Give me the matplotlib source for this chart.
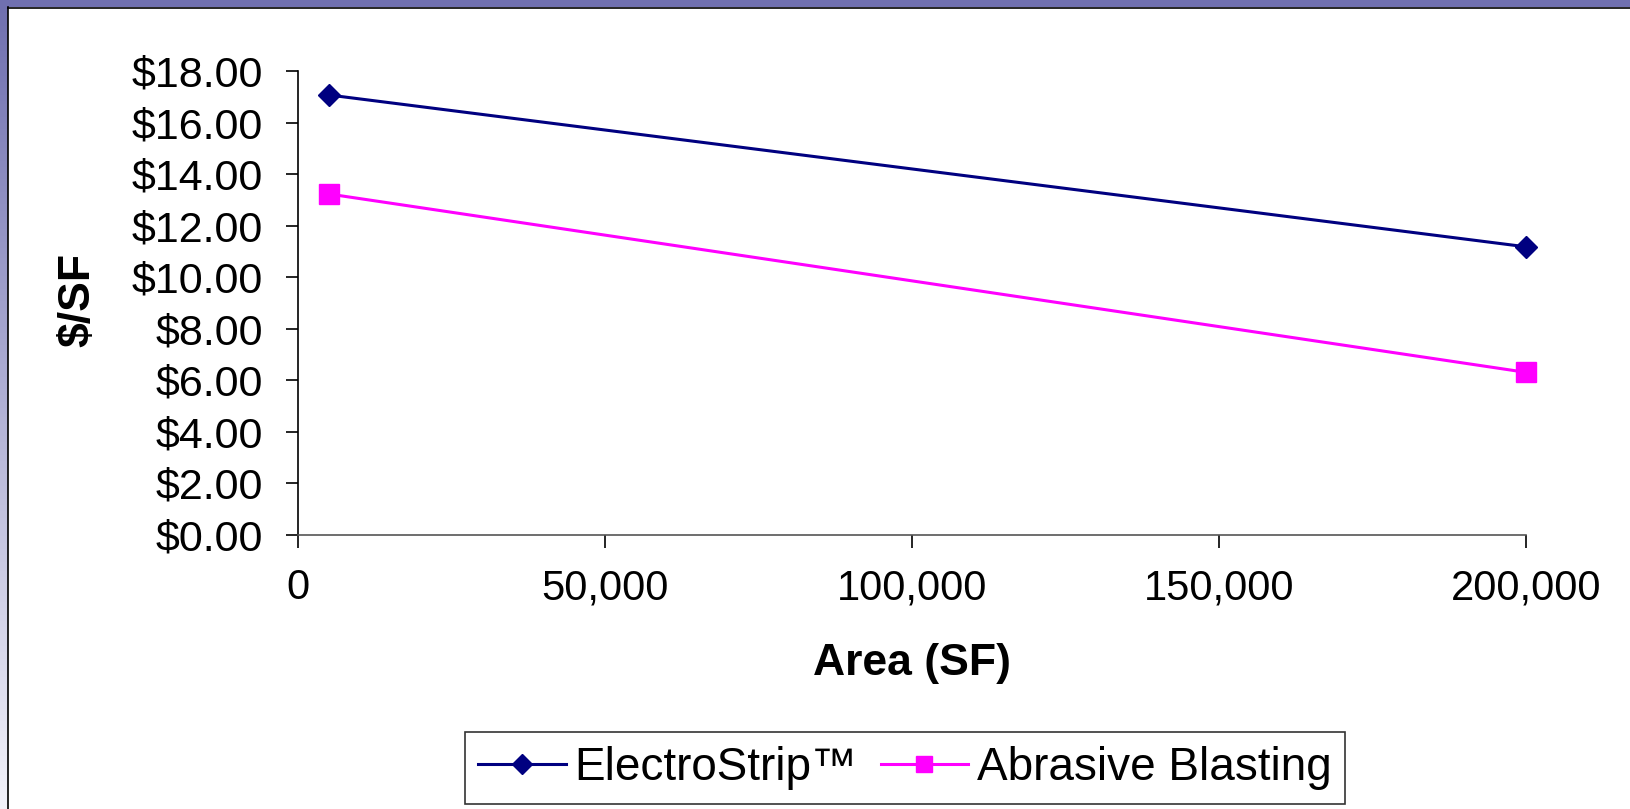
import matplotlib.pyplot as plt
import numpy as np
from matplotlib.patches import Rectangle
from matplotlib.ticker import FuncFormatter, MultipleLocator

plt.rcParams['font.family'] = ['Liberation Sans', 'DejaVu Sans']

# cost per square foot vs. job size
area = [5000, 200000]
electrostrip = [17.07, 11.18]
abrasive = [13.23, 6.31]
series_names = ['ElectroStrip™', 'Abrasive Blasting']

W, H = 1631, 809
fig = plt.figure(figsize=(W / 100, H / 100), dpi=100)
fig.patch.set_facecolor('white')

# slide frame: purple bar on top, fading bar on the left
bg = fig.add_axes([0, 0, 1, 1], zorder=-1)
bg.set_xlim(0, W)
bg.set_ylim(H, 0)
bg.axis('off')
t = np.linspace(0, 1, 256).reshape(-1, 1, 1)
top_c = np.array([0.44, 0.44, 0.69]).reshape(1, 1, 3)
bot_c = np.array([0.95, 0.95, 0.98]).reshape(1, 1, 3)
bg.imshow(top_c + (bot_c - top_c) * t, extent=[0, 8, H, 7], aspect='auto')
bg.add_patch(Rectangle((0, 0), W, 7, color=(0.44, 0.44, 0.69), lw=0))
bg.plot([8, W], [7.5, 7.5], color='black', lw=1.2)
bg.plot([8.5, 8.5], [7, H], color='black', lw=1.2)

ax = fig.add_axes([298 / W, 1 - 535 / H, (1526 - 298) / W, (535 - 71) / H])
ax.plot(area, electrostrip, '-D', color='#000080', lw=2.2, ms=11.5,
        label=series_names[0], clip_on=False)
ax.plot(area, abrasive, '-s', color='#FF00FF', lw=2.2, ms=14,
        label=series_names[1], clip_on=False)

ax.set_xlim(0, 200000)
ax.set_ylim(0, 18)
ax.xaxis.set_major_locator(MultipleLocator(50000))
ax.yaxis.set_major_locator(MultipleLocator(2))
ax.xaxis.set_major_formatter(FuncFormatter(lambda v, p: f'{v:,.0f}'))
ax.yaxis.set_major_formatter(FuncFormatter(lambda v, p: f'${v:.2f}'))
ax.tick_params(length=9, width=1.2, direction='out')
ax.tick_params(axis='x', labelsize=30, pad=15)
ax.tick_params(axis='y', labelsize=31, pad=16)
for s in ['top', 'right']:
    ax.spines[s].set_visible(False)
ax.spines['left'].set_linewidth(1.2)
ax.spines['bottom'].set_linewidth(1.2)
ax.spines['bottom'].set_color('#555555')

fig.text(78 / W, 1 - 300 / H, '$/SF', rotation=90, fontsize=32, fontweight='bold',
         ha='center', va='center')
fig.text(912 / W, 1 - 664 / H, 'Area (SF)', fontsize=32, fontweight='bold',
         ha='center', va='center')

leg = fig.legend(loc='center', bbox_to_anchor=(905 / W, 1 - 768 / H), ncol=2,
                 fontsize=33, frameon=True, fancybox=False, edgecolor='black',
                 handlelength=1.9, handletextpad=0.2, columnspacing=0.5,
                 borderpad=0.3, markerscale=0.85)
leg.get_frame().set_linewidth(1.2)

fig.savefig('out.png', dpi=100)
